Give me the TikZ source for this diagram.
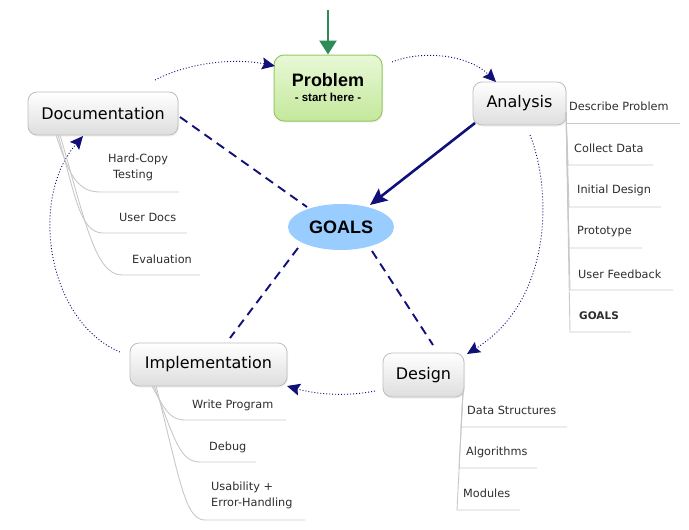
\documentclass[tikz,border=0pt]{standalone}
\usepackage{fontspec}
\setmainfont{DejaVu Sans}
\newfontfamily\arialfont{Liberation Sans}
\usetikzlibrary{arrows.meta,shadows,shapes.geometric}
\definecolor{navy}{RGB}{16,16,120}
\definecolor{ggreen}{RGB}{46,139,87}
\definecolor{branchgray}{RGB}{200,200,200}
\definecolor{subtext}{RGB}{45,45,45}
\definecolor{goalblue}{RGB}{153,204,255}
\definecolor{boxborder}{RGB}{190,190,190}
\definecolor{pgreenA}{RGB}{232,248,214}
\definecolor{pgreenB}{RGB}{196,232,156}
\definecolor{pgreenC}{RGB}{150,200,100}
\tikzset{
  topic/.style={draw=boxborder, line width=0.8pt, rounded corners=9pt,
    top color=white, bottom color=black!13, inner sep=0pt,
    font=\fontsize{16}{19}\selectfont,
    drop shadow={opacity=0.12, shadow xshift=1pt, shadow yshift=-1.5pt}},
  sub/.style={anchor=west, inner sep=0pt, text=subtext,
    font=\fontsize{11.3}{16}\selectfont},
  branch/.style={draw=branchgray, line width=0.9pt},
  flow/.style={draw=navy, dash pattern=on 1pt off 2pt, line width=0.9pt,
    -{Stealth[length=13pt,width=12pt,inset=2pt]}},
  tie/.style={draw=navy, line width=1.9pt, dash pattern=on 9pt off 6pt},
}
\begin{document}
\begin{tikzpicture}[x=1pt,y=-1pt]
\useasboundingbox (0,0) rectangle (689,530);

% main nodes
\node[draw=pgreenC, line width=1pt, rounded corners=10pt, top color=pgreenA, bottom color=pgreenB,
      minimum width=108pt, minimum height=66pt, inner sep=0pt, align=center,
      drop shadow={opacity=0.12, shadow xshift=1pt, shadow yshift=-1.5pt}] (prob) at (328,88)
  {{\arialfont\bfseries\fontsize{18}{20}\selectfont Problem}\\[3pt]{\arialfont\bfseries\fontsize{11.5}{13}\selectfont - start here -}};
\node[topic, minimum width=150pt, minimum height=43pt] (doc) at (103,113.5) {Documentation};
\node[topic, minimum width=93pt, minimum height=43pt] (ana) at (519.5,103.5) {Analysis};
\node[topic, minimum width=81pt, minimum height=44pt] (des) at (423.5,375) {Design};
\node[topic, minimum width=157pt, minimum height=43pt] (imp) at (208.5,364.5) {Implementation};
\node[ellipse, fill=goalblue, minimum width=106pt, minimum height=46pt, inner sep=0pt,
      font=\arialfont\bfseries\fontsize{18}{20}\selectfont] (goals) at (341,227) {GOALS};

% start arrow
\coordinate (startpt) at (328,10);
\draw[ggreen, line width=2.6pt, -{Triangle[length=14pt,width=17pt]}] (startpt) -- (prob.north);

% analysis -> goals
\draw[navy, line width=2.6pt, -{Stealth[length=17pt,width=15pt,inset=3pt]}] (475,123) coordinate (aout) -- (370,205) coordinate (gin);

% dashed ties
\draw[tie] (180,117) coordinate (d1) -- (307,207) coordinate (g1);
\draw[tie] (298,248) coordinate (g2) -- (230,338) coordinate (i1);
\draw[tie] (372,251) coordinate (g3) -- (433,345) coordinate (e1);

% dotted cycle
\coordinate (c1s) at (155,80);  \coordinate (c1e) at (275,66);
\coordinate (c2s) at (392,62);  \coordinate (c2e) at (496,82);
\coordinate (c3s) at (530,135); \coordinate (c3e) at (467,354);
\coordinate (c4s) at (375,391); \coordinate (c4e) at (287,386);
\coordinate (c5s) at (120,352); \coordinate (c5e) at (83,136);
\draw[flow] (c1s) .. controls (190,62) and (235,58) .. (c1e);
\draw[flow] (c2s) .. controls (425,49) and (470,56) .. (c2e);
\draw[flow] (c3s) .. controls (552,190) and (553,300) .. (c3e);
\draw[flow] (c4s) .. controls (345,397) and (315,394) .. (c4e);
\draw[flow] (c5s) .. controls (48,322) and (28,200) .. (c5e);

% Analysis children
\coordinate (ab) at (566,112);
\node[sub] (a1) at (569,106) {Describe Problem};
\node[sub] (a2) at (574,148) {Collect Data};
\node[sub] (a3) at (577,190) {Initial Design};
\node[sub] (a4) at (577,232) {Prototype};
\node[sub] (a5) at (578,274) {User Feedback};
\node[sub, font=\bfseries\fontsize{10.5}{12}\selectfont] (a6) at (579,316) {GOALS};
\draw[branch] (ab) -- (566,123) -- (680,123);
\draw[branch] (ab) -- (568,165) -- (653,165);
\draw[branch] (ab) -- (569,207) -- (661,207);
\draw[branch] (ab) -- (569,248) -- (642,248);
\draw[branch] (ab) -- (570,290) -- (673,290);
\draw[branch] (ab) -- (570,332) -- (631,332);

% Documentation children
\node[sub, align=left] (d1t) at (108,167.5) {Hard-Copy\\\hspace*{5pt}Testing};
\node[sub] (d2t) at (119,217) {User Docs};
\node[sub] (d3t) at (132,259) {Evaluation};
\draw[branch] (56,135) .. controls (68,170) and (75,192) .. (100,192) -- (179,192);
\draw[branch] (58,135) .. controls (75,195) and (80,233) .. (103,233) -- (187,233);
\draw[branch] (60,135) .. controls (85,220) and (95,275) .. (122,275) -- (200,275);

% Implementation children
\node[sub] (i1t) at (192,405) {Write Program};
\node[sub] (i2t) at (209,447) {Debug};
\node[sub, align=left] (i3t) at (211,495) {Usability +\\Error-Handling};
\draw[branch] (152,386) .. controls (165,410) and (170,420) .. (185,420) -- (286,420);
\draw[branch] (154,386) .. controls (175,440) and (180,462) .. (200,462) -- (256,462);
\draw[branch] (156,386) .. controls (180,480) and (185,520) .. (205,520) -- (305,520);

% Design children
\node[sub] (e1t) at (467,410) {Data Structures};
\node[sub] (e2t) at (466,452) {Algorithms};
\node[sub] (e3t) at (463,493) {Modules};
\draw[branch] (463,392) -- (461,427) -- (567,427);
\draw[branch] (463,392) -- (459,468) -- (537,468);
\draw[branch] (463,392) -- (457,510) -- (520,510);
\end{tikzpicture}
\end{document}
